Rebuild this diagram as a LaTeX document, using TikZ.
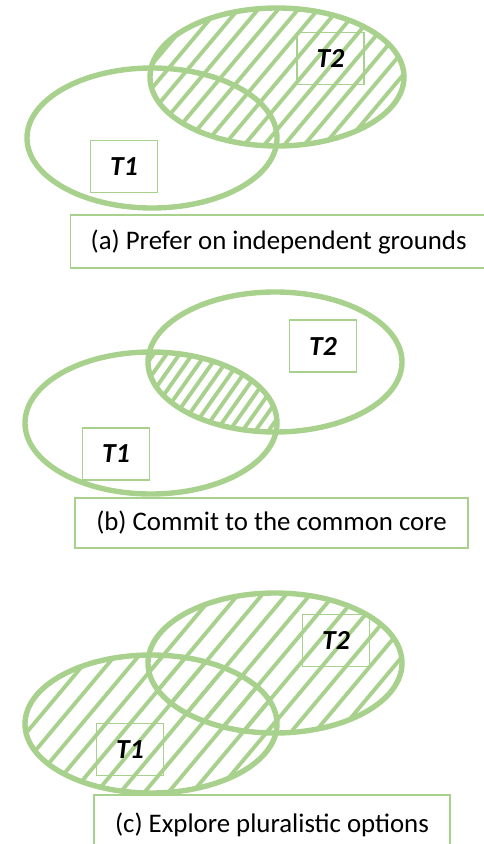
\documentclass[tikz,border=0pt]{standalone}
\usepackage{fontspec}
\setmainfont{Carlito}
\usepackage{tikz}

\definecolor{venngreen}{RGB}{169,209,142}
\tikzset{
	venn/.style={draw=venngreen, line width=4.6pt},
	hatchline/.style={draw=venngreen, line width=3.3pt, line cap=round},
	tbox/.style={draw=venngreen, line width=1.2pt, minimum width=2cm, minimum height=1.55cm, font=\fontsize{23.5}{28}\selectfont\bfseries\itshape},
	capbox/.style={draw=venngreen, line width=1.2pt, font=\fontsize{22.9}{27}\selectfont}
}

\begin{document}
\begin{tikzpicture}[x=0.03cm, y=-0.03cm]
\useasboundingbox (0,0) rectangle (484,844);
\clip (0,0) rectangle (484,844);

% (a)
\begin{scope}
	\clip (277,77) ellipse [x radius=127, y radius=69];
	\foreach \s in {20,40,...,420} {
		\draw[hatchline] (\s,150) -- (\s+126,0);
	}
\end{scope}
\draw[venn] (277,77) ellipse [x radius=127, y radius=69];
\draw[venn] (152,138) ellipse [x radius=125, y radius=70];

\node[tbox] (t1a) at (124,166.5) {T1};
\node[tbox] (t2a) at (330.5,58.5) {T2};
\node[capbox, anchor=west, minimum height=1.59cm, inner xsep=0.6cm] (capa) at (70,241.5) {(a) Prefer on independent grounds};

% (b)
\begin{scope}
	\clip (275,362) ellipse [x radius=127, y radius=70];
	\clip (151,423) ellipse [x radius=126, y radius=71];
	\foreach \s in {80,93,...,290} {
		\draw[hatchline] (\s,440) -- (\s+67,345);
	}
\end{scope}
\draw[venn] (275,362) ellipse [x radius=127, y radius=70];
\draw[venn] (151,423) ellipse [x radius=126, y radius=71];

\node[tbox] (t2b) at (323,346) {T2};
\node[tbox] (t1b) at (116,454) {T1};
\node[capbox, minimum width=11.79cm, minimum height=1.5cm] (capb) at (271.5,523) {(b) Commit to the common core};

% (c)
\foreach \cx/\cy/\rx/\ry in {275/663/127/70, 151/724/126/69} {
	\begin{scope}
		\clip (\cx,\cy) ellipse [x radius=\rx, y radius=\ry];
		\foreach \s in {-150,-126,...,420} {
			\draw[hatchline] (\s,800) -- (\s+176,590);
		}
	\end{scope}
}
\draw[venn] (275,663) ellipse [x radius=127, y radius=70];
\draw[venn] (151,724) ellipse [x radius=126, y radius=69];

\node[tbox] (t2c) at (336,640.5) {T2};
\node[tbox] (t1c) at (130,749.5) {T1};
\node[capbox, minimum width=10.68cm, minimum height=1.8cm] (capc) at (272,825) {(c) Explore pluralistic options};

\end{tikzpicture}
\end{document}
